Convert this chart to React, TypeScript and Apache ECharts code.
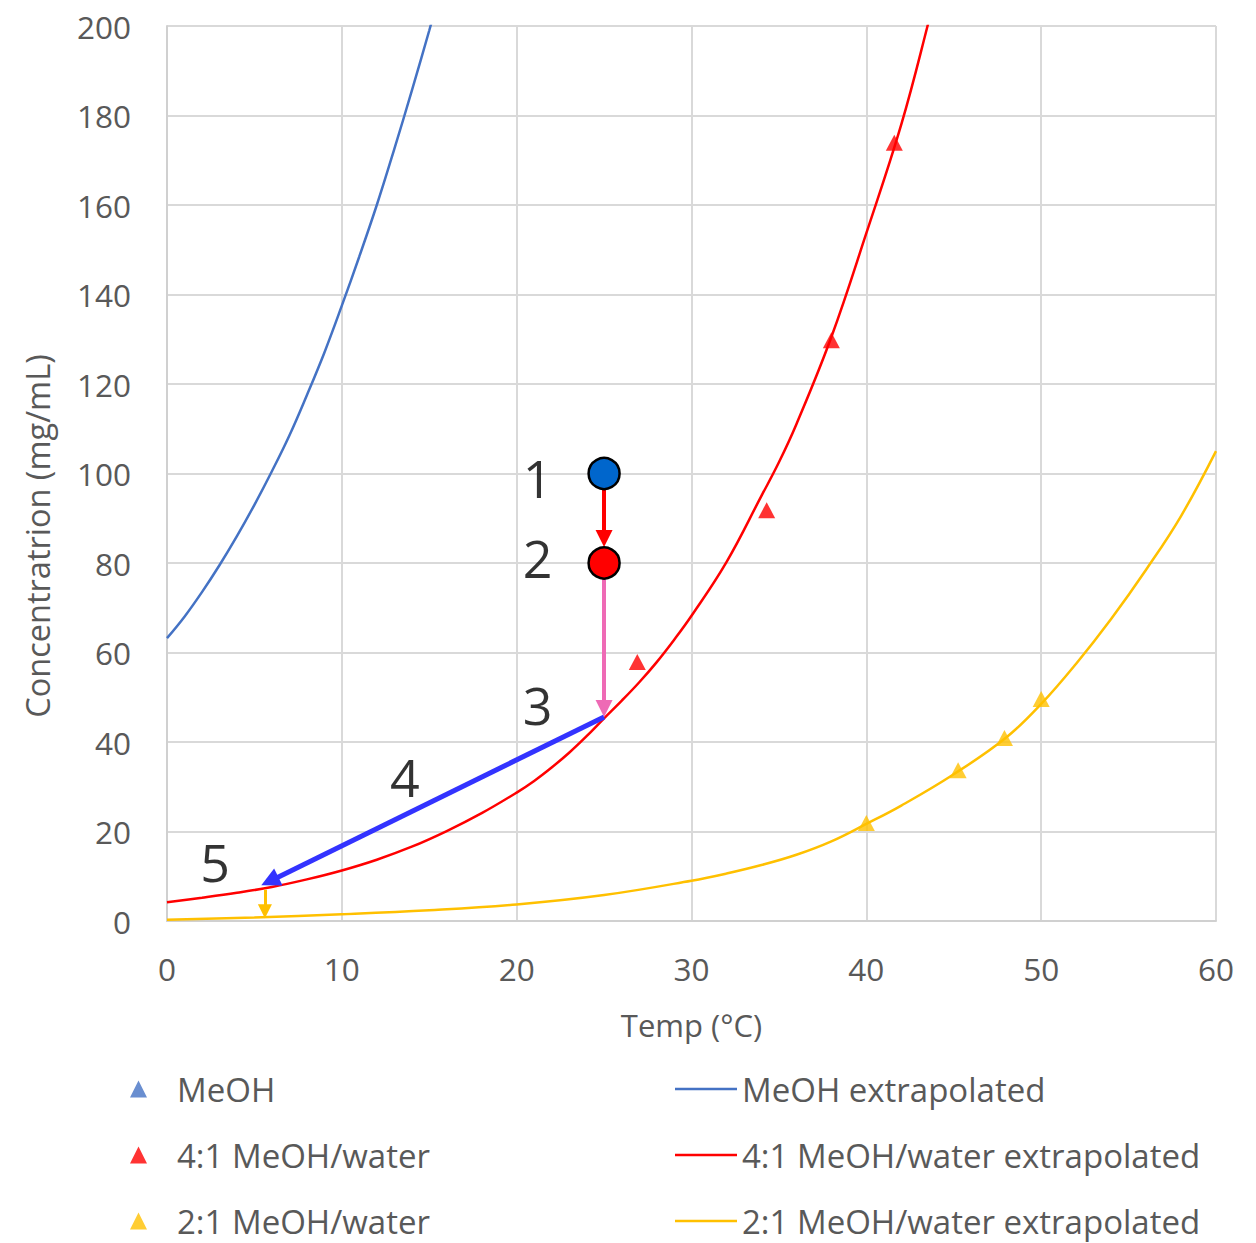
import React, { useEffect, useRef } from "react";
import * as echarts from "echarts";

// Extrapolated curves (temperature °C, concentration mg/mL)
const meohT = [0, 1, 2, 3, 4, 5, 6, 7, 8, 9, 10, 11, 12, 13, 14, 15, 16];
const meohC = [63.2, 68, 73.5, 79.5, 86, 93, 100.5, 108.5, 117.5, 127, 137.5, 148.5, 160, 172.5, 185.5, 199, 213];

const mix41T = [0, 2, 4, 6, 8, 10, 12, 14, 16, 18, 20, 21, 22, 23, 24, 25, 26, 27, 28, 29, 30, 32, 34, 35, 36, 38, 40, 42, 43.5, 44.5];
const mix41C = [4.2, 5.2, 6.3, 7.6, 9.3, 11.3, 13.7, 16.6, 20.1, 24.1, 28.7, 31.3, 34.3, 37.6, 41.3, 45.3, 49.2, 53.3, 57.8, 62.8, 68.2, 80.2, 95, 102.5, 111, 130.5, 153.7, 178, 200, 216];

const mix21T = [0, 5, 10, 15, 20, 25, 30, 32, 34, 36, 38, 40, 42, 45, 48, 50, 52, 54, 56, 58, 60];
const mix21C = [0.3, 0.8, 1.5, 2.4, 3.7, 5.8, 9.0, 10.6, 12.5, 14.8, 17.8, 21.7, 25.8, 32.8, 41, 48.5, 57.5, 67.5, 78.5, 90.5, 105];

// Measured points
const meohPtsT: number[] = [];
const meohPtsC: number[] = [];
const mix41PtsT = [26.9, 34.3, 38.0, 41.6];
const mix41PtsC = [57.9, 91.8, 129.8, 173.9];
const mix21PtsT = [40.0, 45.25, 47.9, 50.0];
const mix21PtsC = [21.9, 33.7, 40.9, 49.6];

// Process annotation
const stateT = [25, 25];
const stateC = [100, 80];
const stepLabels = ["1", "2", "3", "4", "5"];
const stepLabelT = [21.2, 21.2, 21.2, 13.6, 2.75];
const stepLabelC = [99, 81.3, 48.3, 32.4, 13.2];
const arrowFrom = [[25, 96.4], [25, 76.4], [25, 45.6], [5.6, 7.0]];
const arrowTo = [[25, 85.5], [25, 47.5], [5.88, 8.9], [5.6, 2.2]];
const arrowColors = ["#FF0000", "#EE6AB5", "#3333FF", "#FFC000"];
const arrowWidths = [4, 4, 5, 3];
const arrowHeads = [17, 17, 19, 14];

const xTicks = [0, 10, 20, 30, 40, 50, 60];

const zip = (a: number[], b: number[]) => a.map((v, i) => [v, b[i]]);

const FONT = "Open Sans";
const GREY = "#595959";

export default function App() {
  const ref = useRef<HTMLDivElement>(null);
  useEffect(() => {
    if (!ref.current) return;
    const chart = echarts.init(ref.current, undefined, { renderer: "svg" });
    const lineSeries = (name: string, t: number[], c: number[], color: string) => ({
      name,
      type: "line",
      data: zip(t, c),
      showSymbol: false,
      symbol: "none",
      smooth: 0.4,
      clip: true,
      lineStyle: { color, width: 2.5 },
      itemStyle: { color },
      z: 2,
    });
    const scatterSeries = (name: string, t: number[], c: number[], color: string) => ({
      name,
      type: "scatter",
      data: zip(t, c),
      symbol: "triangle",
      symbolSize: [17, 16],
      itemStyle: { color },
      z: 3,
    });
    const arrowSeries = arrowFrom.map((f, i) => ({
      type: "lines",
      coordinateSystem: "cartesian2d",
      symbol: ["none", "triangle"],
      symbolSize: arrowHeads[i],
      lineStyle: { color: arrowColors[i], width: arrowWidths[i], opacity: 1, curveness: 0 },
      itemStyle: { color: arrowColors[i] },
      data: [{ coords: [f, arrowTo[i]] }],
      z: 5,
      silent: true,
    }));
    const legendText = { fontSize: 33, color: GREY, lineHeight: 38, fontFamily: FONT };
    chart.setOption({
      animation: false,
      backgroundColor: "#ffffff",
      textStyle: { fontFamily: FONT },
      grid: { left: 167, right: 40, top: 26, bottom: 322, containLabel: false },
      xAxis: {
        type: "value",
        min: xTicks[0],
        max: xTicks[xTicks.length - 1],
        interval: 10,
        name: "Temp (°C)",
        nameLocation: "middle",
        nameGap: 88,
        nameTextStyle: { fontSize: 31, color: GREY, fontFamily: FONT },
        axisLine: { show: true, lineStyle: { color: "#D0D0D0", width: 2 } },
        axisTick: { show: false },
        axisLabel: { fontSize: 31.5, color: GREY, margin: 31, fontFamily: FONT },
        splitLine: { show: true, lineStyle: { color: "#D9D9D9", width: 2 } },
      },
      yAxis: {
        type: "value",
        min: 0,
        max: 200,
        interval: 20,
        axisLine: { show: true, lineStyle: { color: "#D0D0D0", width: 2 } },
        axisTick: { show: false },
        axisLabel: { fontSize: 31.5, color: GREY, margin: 36, fontFamily: FONT },
        splitLine: { show: true, lineStyle: { color: "#D9D9D9", width: 2 } },
      },
      legend: [
        {
          data: ["MeOH", "4:1 MeOH/water", "2:1 MeOH/water"],
          orient: "vertical",
          left: 130,
          top: 1070,
          padding: 0,
          height: 172,
          icon: "triangle",
          itemWidth: 17,
          itemHeight: 17,
          itemGap: 28,
          textStyle: { ...legendText, padding: [0, 0, 0, 25] },
        },
        {
          data: ["MeOH extrapolated", "4:1 MeOH/water extrapolated", "2:1 MeOH/water extrapolated"],
          orient: "vertical",
          left: 675,
          top: 1070,
          padding: 0,
          height: 172,
          icon: "rect",
          itemWidth: 62,
          itemHeight: 2.5,
          itemGap: 28,
          textStyle: legendText,
        },
      ],
      graphic: [
        {
          type: "text",
          x: 37,
          y: 536,
          rotation: Math.PI / 2,
          style: {
            text: "Concentratrion (mg/mL)",
            fontSize: 32.5,
            fontFamily: FONT,
            fill: GREY,
            align: "center",
            verticalAlign: "middle",
          },
        },
      ],
      series: [
        lineSeries("MeOH extrapolated", meohT, meohC, "#4472C4"),
        lineSeries("4:1 MeOH/water extrapolated", mix41T, mix41C, "#FF0000"),
        lineSeries("2:1 MeOH/water extrapolated", mix21T, mix21C, "#FFC000"),
        scatterSeries("MeOH", meohPtsT, meohPtsC, "#4472C4"),
        scatterSeries("4:1 MeOH/water", mix41PtsT, mix41PtsC, "#FF0000"),
        scatterSeries("2:1 MeOH/water", mix21PtsT, mix21PtsC, "#FFC000"),
        ...arrowSeries,
        {
          name: "states",
          type: "scatter",
          symbol: "circle",
          symbolSize: 31,
          data: [
            { value: [stateT[0], stateC[0]], itemStyle: { color: "#0066CC" } },
            { value: [stateT[1], stateC[1]], itemStyle: { color: "#FF0000" } },
          ],
          itemStyle: { borderColor: "#000000", borderWidth: 2.5, opacity: 1 },
          z: 6,
        },
        {
          name: "steps",
          type: "scatter",
          symbol: "circle",
          symbolSize: 1,
          itemStyle: { color: "rgba(0,0,0,0)" },
          data: stepLabels.map((s, i) => [stepLabelT[i], stepLabelC[i], s]),
          label: {
            show: true,
            position: "inside",
            formatter: (p: any) => p.value[2],
            fontSize: 52,
            color: "#000000",
            fontFamily: FONT,
          },
          z: 7,
        },
      ],
    });
    return () => chart.dispose();
  }, []);
  return <div ref={ref} style={{ width: 1256, height: 1243, position: "absolute", left: 0, top: 0 }} />;
}
